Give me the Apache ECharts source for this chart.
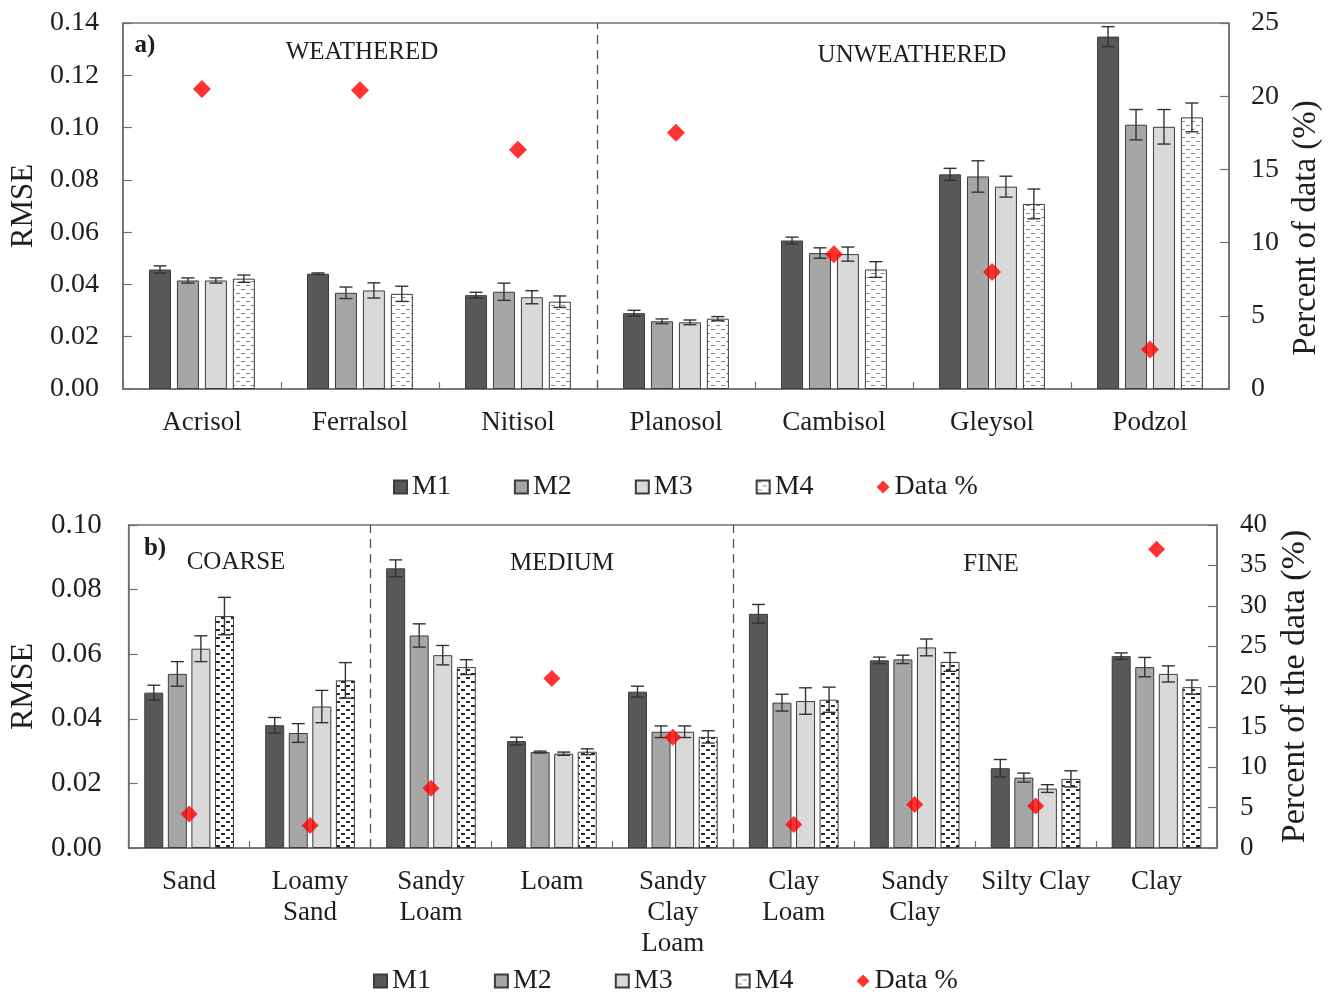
<!DOCTYPE html>
<html>
<head>
<meta charset="utf-8">
<script src="https://cdn.jsdelivr.net/npm/echarts@6/dist/echarts.min.js"></script>
<style>
html,body{margin:0;padding:0;background:#fff;}
#chart{width:1339px;height:992px;}
</style>
</head>
<body>
<div id="chart"></div>
<script>
// ---------- DATA ----------
const soilCats = ['Acrisol','Ferralsol','Nitisol','Planosol','Cambisol','Gleysol','Podzol'];
const soilM1 = [0.0457, 0.0441, 0.0359, 0.0290, 0.0568, 0.0821, 0.1348];
const soilM2 = [0.0415, 0.0368, 0.0372, 0.0259, 0.0520, 0.0813, 0.1011];
const soilM3 = [0.0415, 0.0377, 0.0351, 0.0255, 0.0516, 0.0774, 0.1003];
const soilM4 = [0.0422, 0.0364, 0.0334, 0.0269, 0.0457, 0.0708, 0.1039];
const soilErr1 = [0.0014, 0.0003, 0.0011, 0.0011, 0.0013, 0.0023, 0.0038];
const soilErr2 = [0.0010, 0.0022, 0.0033, 0.0009, 0.0020, 0.0060, 0.0058];
const soilErr3 = [0.0010, 0.0029, 0.0025, 0.0009, 0.0027, 0.0040, 0.0066];
const soilErr4 = [0.0014, 0.0029, 0.0022, 0.0008, 0.0030, 0.0057, 0.0055];
const soilPct = [20.5, 20.4, 16.35, 17.5, 9.2, 8.0, 2.7];
const soilGroups = ['WEATHERED', 'UNWEATHERED'];

const texCats = ['Sand','Loamy\nSand','Sandy\nLoam','Loam','Sandy\nClay\nLoam','Clay\nLoam','Sandy\nClay','Silty Clay','Clay'];
const texM1 = [0.0481, 0.0380, 0.0866, 0.0331, 0.0484, 0.0725, 0.0581, 0.0247, 0.0594];
const texM2 = [0.0539, 0.0356, 0.0658, 0.0297, 0.0360, 0.0450, 0.0584, 0.0218, 0.0560];
const texM3 = [0.0617, 0.0438, 0.0597, 0.0292, 0.0360, 0.0455, 0.0621, 0.0184, 0.0539];
const texM4 = [0.0718, 0.0519, 0.0560, 0.0298, 0.0344, 0.0459, 0.0576, 0.0214, 0.0498];
const texErr1 = [0.0023, 0.0024, 0.0026, 0.0012, 0.0017, 0.0029, 0.0010, 0.0027, 0.0010];
const texErr2 = [0.0038, 0.0029, 0.0036, 0.0003, 0.0018, 0.0026, 0.0013, 0.0014, 0.0030];
const texErr3 = [0.0040, 0.0050, 0.0030, 0.0005, 0.0018, 0.0041, 0.0026, 0.0012, 0.0025];
const texErr4 = [0.0058, 0.0055, 0.0023, 0.0009, 0.0019, 0.0039, 0.0029, 0.0025, 0.0022];
const texPct = [4.2, 2.8, 7.4, 21.0, 13.7, 2.9, 5.4, 5.2, 37.0];
const texGroups = ['COARSE', 'MEDIUM', 'FINE'];

const modelNames = ['M1','M2','M3','M4'];
const pctName = 'Data %';

// ---------- STYLE ----------
const FONT = "'Liberation Serif','Times New Roman',serif";
const TXT = '#1e1e1e';
const AXC = '#707070';
const fills = ['#585858', '#a6a6a6', '#d9d9d9'];

function makePattern(color, h) {
  const c = document.createElement('canvas');
  c.width = 10; c.height = 8;
  const g = c.getContext('2d');
  g.fillStyle = '#ffffff'; g.fillRect(0, 0, 10, 8);
  g.fillStyle = color;
  g.fillRect(1, 1, 4, h);
  g.fillRect(6, 5, 4, h);
  return { image: c, repeat: 'repeat' };
}
const patA = makePattern('#8a8a8a', 1);
const patB = makePattern('#2a2a2a', 2);

const chart = echarts.init(document.getElementById('chart'), null, { renderer: 'canvas' });

function buildPanel(p) {
  const out = [];
  p.models.forEach((vals, i) => {
    out.push({
      type: 'bar', name: modelNames[i], xAxisIndex: p.xCat, yAxisIndex: p.yL,
      data: vals, barWidth: p.bw, barGap: p.gap, barCategoryGap: '20%',
      itemStyle: { color: i < 3 ? fills[i] : p.pat, borderColor: '#3c3c3c', borderWidth: 1 },
      emphasis: { disabled: true }, z: 2
    });
  });
  const step = p.bw * (1 + parseFloat(p.gap) / 100);
  p.models.forEach((vals, i) => {
    const off = (i - 1.5) * step;
    const err = p.errs[i];
    out.push({
      type: 'custom', name: 'err' + p.xCat + i, xAxisIndex: p.xCat, yAxisIndex: p.yL,
      data: vals.map((v, k) => [k, v, err[k]]), encode: { x: 0, y: 1 }, z: 4, silent: true,
      renderItem: function (params, api) {
        const c = api.value(0), v = api.value(1), e = api.value(2);
        const t = api.coord([c, v + e]);
        const b = api.coord([c, v - e]);
        const x = t[0] + off, hw = 6.5;
        const st = { stroke: '#333', lineWidth: 1.4 };
        return { type: 'group', children: [
          { type: 'line', shape: { x1: x, y1: t[1], x2: x, y2: b[1] }, style: st },
          { type: 'line', shape: { x1: x - hw, y1: t[1], x2: x + hw, y2: t[1] }, style: st },
          { type: 'line', shape: { x1: x - hw, y1: b[1], x2: x + hw, y2: b[1] }, style: st }
        ]};
      }
    });
  });
  out.push({
    type: 'scatter', name: pctName, xAxisIndex: p.xCat, yAxisIndex: p.yR,
    data: p.pct, symbol: 'diamond', symbolSize: p.diamond,
    itemStyle: { color: '#ff0000' }, z: 6, emphasis: { disabled: true }
  });
  out.push({
    type: 'line', name: 'sep' + p.xCat, xAxisIndex: p.xVal, yAxisIndex: p.yL,
    data: [], silent: true, symbol: 'none',
    markLine: {
      silent: true, symbol: ['none', 'none'], label: { show: false },
      lineStyle: { color: '#555', type: [9, 6], width: 1.3 },
      data: p.seps.map(s => ({ xAxis: s }))
    }
  });
  return out;
}

const series = [].concat(
  buildPanel({ xCat: 0, xVal: 2, yL: 0, yR: 1, models: [soilM1, soilM2, soilM3, soilM4],
    errs: [soilErr1, soilErr2, soilErr3, soilErr4], pct: soilPct, bw: 22, gap: '27%', pat: patA, diamond: 18, seps: [3] }),
  buildPanel({ xCat: 1, xVal: 3, yL: 2, yR: 3, models: [texM1, texM2, texM3, texM4],
    errs: [texErr1, texErr2, texErr3, texErr4], pct: texPct, bw: 19, gap: '24%', pat: patB, diamond: 17, seps: [2, 5] })
);

function catAxis(grid, cats, fs) {
  return {
    type: 'category', gridIndex: grid, data: cats,
    axisLine: { lineStyle: { color: AXC, width: 1.5 } },
    axisTick: { show: true, inside: true, length: 7, lineStyle: { color: AXC, width: 1.2 } },
    axisLabel: { interval: 0, margin: 18, fontFamily: FONT, fontSize: fs, color: TXT, lineHeight: 31 },
    splitLine: { show: false }
  };
}
function valXAxis(grid, n) {
  return { type: 'value', gridIndex: grid, min: 0, max: n, show: false, splitLine: { show: false } };
}
function yAxis(grid, pos, min, max, interval, dec, name, nameSize, nameGap, fs, margin, pad) {
  return {
    type: 'value', gridIndex: grid, position: pos, min: min, max: max, interval: interval,
    name: name, nameLocation: 'middle', nameGap: nameGap,
    nameTextStyle: { fontFamily: FONT, fontSize: nameSize, color: TXT, padding: pad || 0 },
    axisLine: { show: true, lineStyle: { color: AXC, width: 1.5 } },
    axisTick: { show: true, inside: true, length: 9, lineStyle: { color: AXC, width: 1.2 } },
    axisLabel: { fontFamily: FONT, fontSize: fs, color: TXT, margin: margin,
      formatter: v => dec ? v.toFixed(dec) : String(v) },
    splitLine: { show: false }
  };
}

const legendData = modelNames.map(n => ({ name: n, icon: 'rect' }))
  .concat([{ name: pctName, icon: 'path://M7,0 L14,7 L7,14 L0,7 Z' }]);
function legend(left, top) {
  return {
    left: left, top: top, orient: 'horizontal', data: legendData, selectedMode: false,
    itemWidth: 13, itemHeight: 13, itemGap: 63,
    textStyle: { fontFamily: FONT, fontSize: 28, color: TXT }
  };
}

function gtext(txt, x, y, size, bold) {
  return { type: 'text', x: x, y: y, style: { text: txt, fontFamily: FONT, fontSize: size,
    fontWeight: bold ? 'bold' : 'normal', fill: TXT, textAlign: 'center', textVerticalAlign: 'middle' } };
}

const option = {
  backgroundColor: '#ffffff',
  animation: false,
  grid: [
    { left: 115, right: 110, top: 23, height: 366, show: true, borderColor: AXC, borderWidth: 1.5, containLabel: false },
    { left: 128, right: 122, top: 525, height: 323, show: true, borderColor: AXC, borderWidth: 1.5, containLabel: false }
  ],
  xAxis: [
    catAxis(0, soilCats, 27),
    catAxis(1, texCats, 27),
    valXAxis(0, soilCats.length),
    valXAxis(1, texCats.length)
  ],
  yAxis: [
    yAxis(0, 'left', 0, 0.14, 0.02, 2, 'RMSE', 31, 76, 28, 24),
    yAxis(0, 'right', 0, 25, 5, 0, 'Percent of data (%)', 33, 61, 28, 22, [0, 44, 0, 0]),
    yAxis(1, 'left', 0, 0.10, 0.02, 2, 'RMSE', 32, 88, 29, 27),
    yAxis(1, 'right', 0, 40, 5, 0, 'Percent of the data (%)', 34, 60, 27, 23)
  ],
  legend: [legend(388, 468), legend(368, 962)],
  graphic: [
    gtext('a)', 145, 46, 25, true),
    gtext('b)', 155, 549, 25, true),
    gtext(soilGroups[0], 362, 52, 25),
    gtext(soilGroups[1], 912, 55, 25),
    gtext(texGroups[0], 236, 562, 25),
    gtext(texGroups[1], 562, 563, 25),
    gtext(texGroups[2], 991, 564, 25)
  ],
  series: series
};
chart.setOption(option);
</script>
</body>
</html>
